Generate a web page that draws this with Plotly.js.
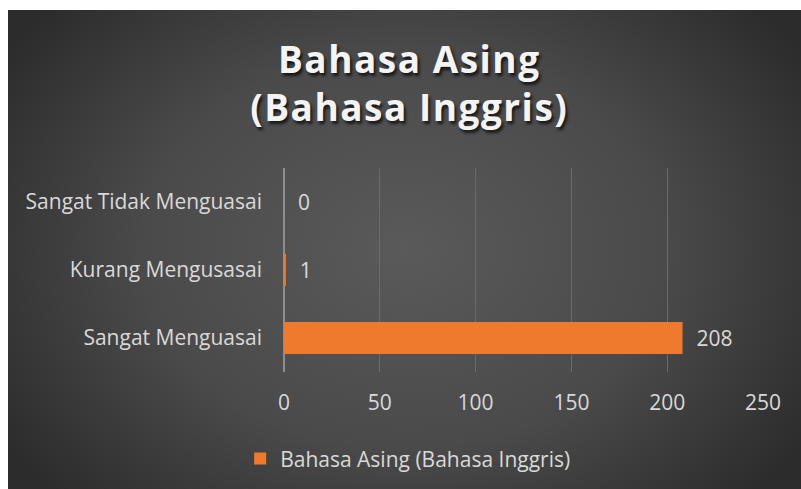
<!DOCTYPE html>
<html>
<head>
<meta charset="utf-8">
<script src="https://cdn.plot.ly/plotly-3.0.1.min.js"></script>
<style>
  html, body { margin: 0; padding: 0; background: #ffffff; width: 801px; height: 489px; overflow: hidden; }
  #chart {
    position: absolute; left: 8px; top: 10px; width: 793px; height: 479px;
    background: radial-gradient(ellipse 60% 75% at 50% 50%, #5a5a5a 0%, #4a4a4a 55%, #2c2c2c 100%);
  }
  .gtitle { letter-spacing: 1.5px; }
</style>
</head>
<body>
<div id="chart"></div>
<script>
const categories = ["Sangat Menguasai", "Kurang Mengusasai", "Sangat Tidak Menguasai"];
const values = [208, 1, 0];
const seriesName = "Bahasa Asing (Bahasa Inggris)";
const titleLines = ["Bahasa Asing", "(Bahasa Inggris)"];
const tickValues = [0, 50, 100, 150, 200, 250];

const trace = {
  type: "bar",
  orientation: "h",
  y: categories,
  x: values,
  name: seriesName,
  text: values.map(v => "\u00a0\u00a0" + v),
  textposition: "outside",
  cliponaxis: false,
  textfont: { family: "Open Sans, sans-serif", size: 21, color: "#d9d9d9" },
  marker: { color: "#ef7a2c", line: { width: 0 } },
  showlegend: true
};

const layout = {
  width: 793, height: 479,
  paper_bgcolor: "rgba(0,0,0,0)",
  plot_bgcolor: "rgba(0,0,0,0)",
  margin: { l: 276, r: 38, t: 158, b: 117 },
  bargap: 0.53,
  title: {
    text: titleLines.join("<br>"),
    x: 0.506, xref: "container", xanchor: "center",
    y: 0.868, yref: "container", yanchor: "top",
    font: { family: "Open Sans, sans-serif", size: 37, weight: 700, color: "#f4f4f4", shadow: "2px 3px 3px rgba(0,0,0,0.7)" }
  },
  xaxis: {
    range: [0, 250],
    tickvals: tickValues,
    ticktext: tickValues.map(String),
    showgrid: true, gridcolor: "#6b6b6b", gridwidth: 1,
    zeroline: true, zerolinecolor: "#8e8e8e", zerolinewidth: 2,
    showline: false,
    ticks: "", ticklabelstandoff: 16,
    tickfont: { family: "Open Sans, sans-serif", size: 21, color: "#d9d9d9" },
    fixedrange: true
  },
  yaxis: {
    type: "category",
    showgrid: false, zeroline: false, showline: false,
    ticks: "", ticklabelstandoff: 21,
    tickfont: { family: "Open Sans, sans-serif", size: 21, color: "#d9d9d9" },
    fixedrange: true
  },
  showlegend: true,
  legend: {
    orientation: "h",
    xref: "container", yref: "container",
    x: 0.504, xanchor: "center",
    y: 0.063, yanchor: "middle",
    font: { family: "Open Sans, sans-serif", size: 21, color: "#d9d9d9" },
    bgcolor: "rgba(0,0,0,0)",
    itemwidth: 30
  }
};

Plotly.newPlot("chart", [trace], layout, { displayModeBar: false, staticPlot: true });
</script>
</body>
</html>
